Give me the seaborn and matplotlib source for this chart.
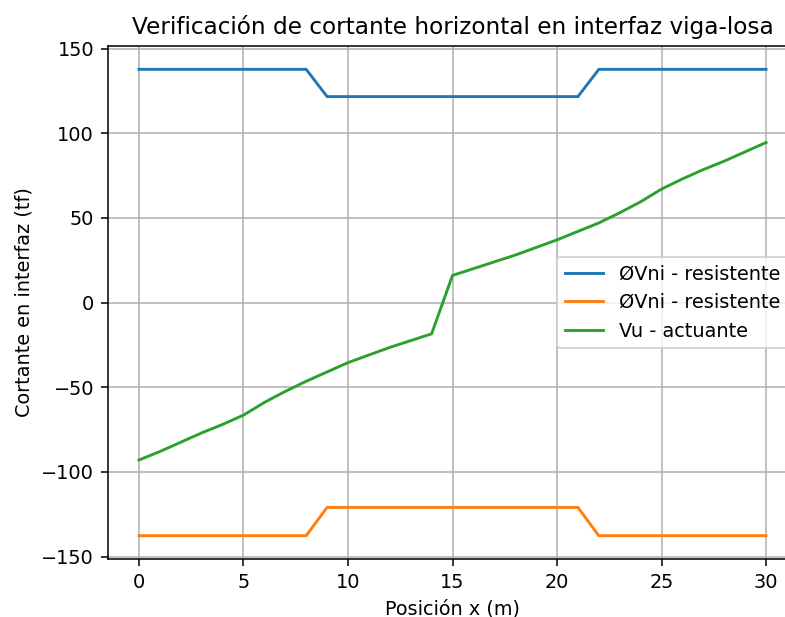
import numpy as np
import pandas as pd
import matplotlib
matplotlib.use("Agg")
import matplotlib.pyplot as plt
import seaborn as sns

# Posiciones a lo largo de la viga (m)
x_pos = list(range(0, 31))

# Resistencia de la interfaz (tf)
vni_pos = [137.7] * 9 + [121.6] * 13 + [137.7] * 9
vni_neg = [-137.7] * 9 + [-121.0] * 13 + [-137.7] * 9

# Cortante actuante (tf)
vu = [-93.0, -88.0, -82.5, -77.0, -72.0, -66.5, -59.0, -52.5, -46.5, -41.0,
      -35.5, -31.0, -26.5, -22.5, -18.5, 16.0, 20.0, 24.0, 28.0, 32.5,
      37.0, 42.0, 47.0, 53.0, 59.5, 67.0, 73.0, 78.5, 83.5, 89.0, 94.5]

df = pd.DataFrame({"x": x_pos, "vni_pos": vni_pos, "vni_neg": vni_neg, "vu": vu})

DPI = 139
fig = plt.figure(figsize=(785 / DPI, 617 / DPI), dpi=DPI)
# el eje se sale un poco por la derecha (como en la figura original recortada)
ax = fig.add_axes([0.1371, 0.094, 0.8787, 0.8314])

sns.lineplot(data=df, x="x", y="vni_pos", ax=ax, color="C0", label="ØVni - resistente")
sns.lineplot(data=df, x="x", y="vni_neg", ax=ax, color="C1", label="ØVni - resistente")
sns.lineplot(data=df, x="x", y="vu", ax=ax, color="C2", label="Vu - actuante")

ax.set_title("Verificación de cortante horizontal en interfaz viga-losa")
ax.set_xlabel("Posición x (m)")
ax.set_ylabel("Cortante en interfaz (tf)")
ax.grid(True)
ax.legend(loc="center right")

fig.savefig("out.png", dpi=DPI)
